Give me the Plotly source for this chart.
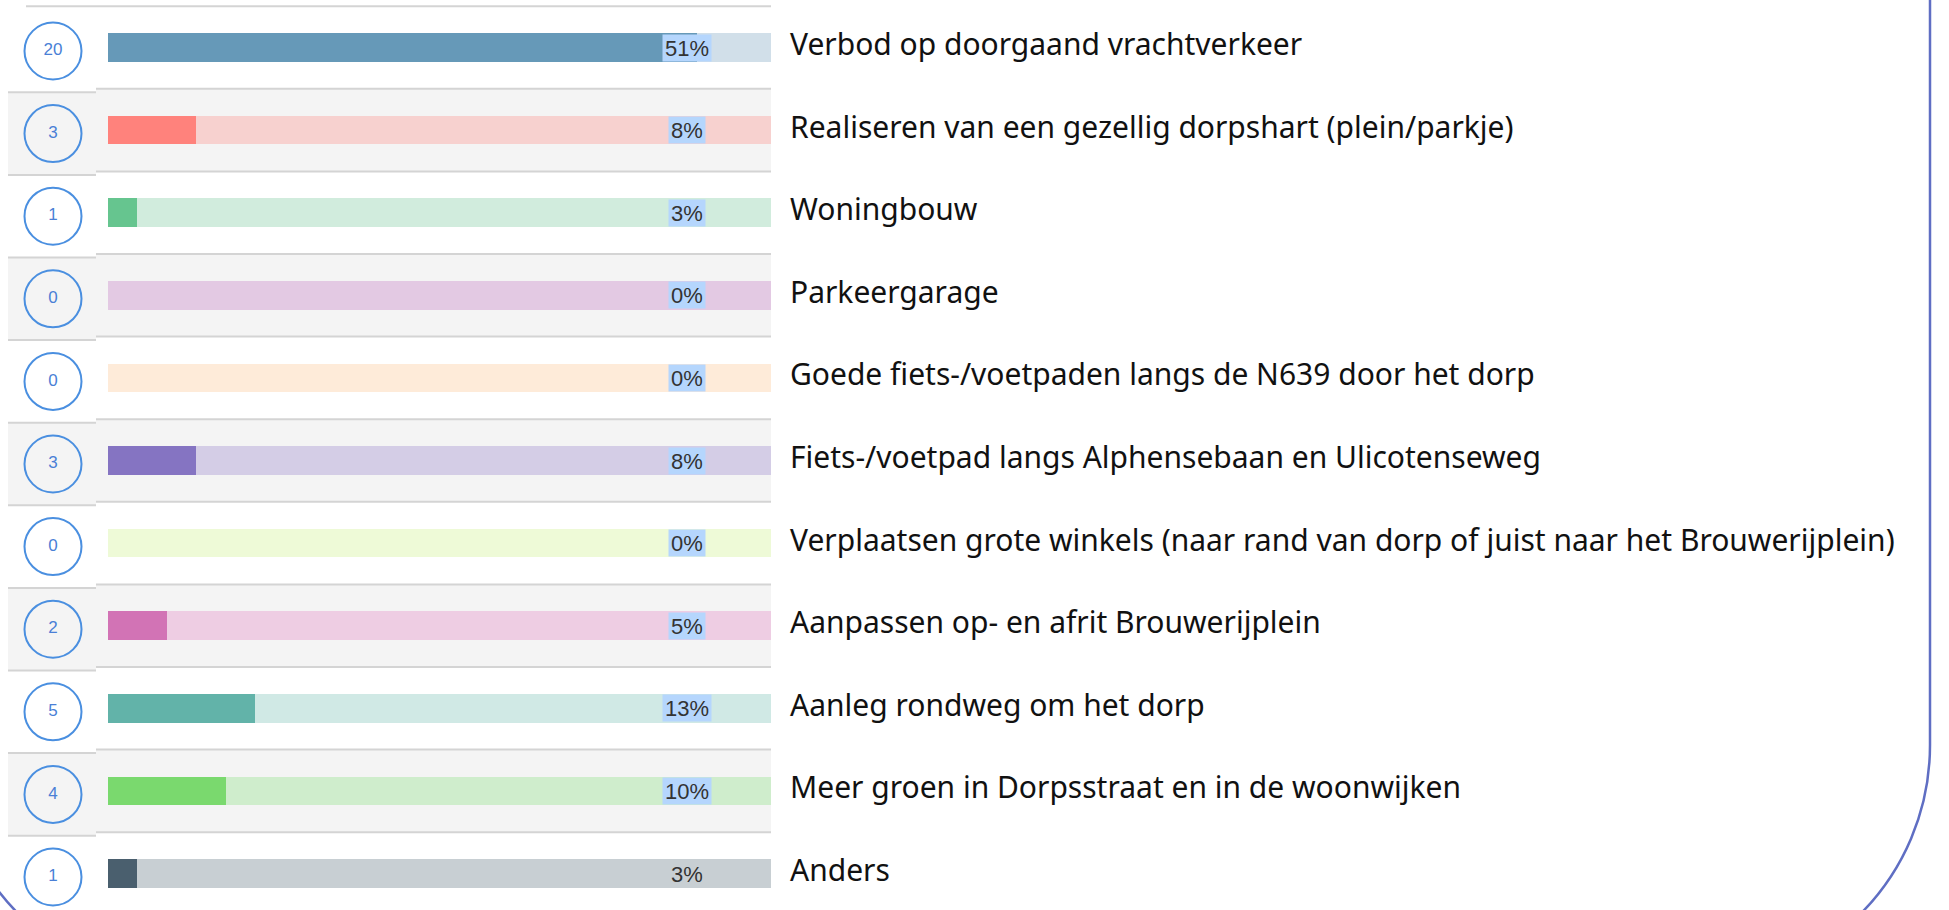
import plotly.graph_objects as go

# ---------------- data ----------------
categories = [
    "Verbod op doorgaand vrachtverkeer",
    "Realiseren van een gezellig dorpshart (plein/parkje)",
    "Woningbouw",
    "Parkeergarage",
    "Goede fiets-/voetpaden langs de N639 door het dorp",
    "Fiets-/voetpad langs Alphensebaan en Ulicotenseweg",
    "Verplaatsen grote winkels (naar rand van dorp of juist naar het Brouwerijplein)",
    "Aanpassen op- en afrit Brouwerijplein",
    "Aanleg rondweg om het dorp",
    "Meer groen in Dorpsstraat en in de woonwijken",
    "Anders",
]
counts = [20, 3, 1, 0, 0, 3, 0, 2, 5, 4, 1]
percent_labels = ["51%", "8%", "3%", "0%", "0%", "8%", "0%", "5%", "13%", "10%", "3%"]
highlighted = [True, True, True, True, True, True, True, True, True, True, False]

fill_colors = ["#6699b8", "#ff827c", "#66c58f", "#c98fc9", "#fdc99a", "#8574c2",
               "#cdeb9a", "#d273b5", "#62b3a9", "#7ad96e", "#4a5f6e"]
track_colors = ["#d1dfe9", "#f7d1cf", "#d1ecdd", "#e3c9e3", "#feebd9", "#d4cde6",
                "#eefad7", "#eecde3", "#d0e9e5", "#cfedcc", "#c8cfd3"]

TRACK_MAX = 22.5  # scale maximum of the bar tracks

# ---------------- layout helpers ----------------
W, H = 1949, 910
ROW_PX = 82.6
ROW0_PX = 47.5
LEFT_SHIFT = 3.5 / ROW_PX

n = len(categories)
rows = list(range(n))

y_top = -ROW0_PX / ROW_PX
y_bot = (H - ROW0_PX) / ROW_PX


def px(x):
    return x / W


def py(y):
    return 1 - y / H


fig = go.Figure()

# track bars
fig.add_trace(go.Bar(
    y=rows, x=[TRACK_MAX] * n, orientation="h",
    marker=dict(color=track_colors, line=dict(width=0)),
    width=0.345, xaxis="x", yaxis="y", hoverinfo="skip", showlegend=False,
))
# value bars
fig.add_trace(go.Bar(
    y=rows, x=counts, orientation="h",
    marker=dict(color=fill_colors, line=dict(width=0)),
    width=0.345, xaxis="x", yaxis="y", hoverinfo="skip", showlegend=False,
))
# count circles
fig.add_trace(go.Scatter(
    x=["n"] * n, y=rows, mode="markers+text",
    marker=dict(symbol="circle", size=57, color="rgba(0,0,0,0)",
                line=dict(color="#4a8fe0", width=2)),
    text=[str(c) for c in counts], textposition="middle center",
    textfont=dict(family="Liberation Sans, Arial", size=17, color="#4a7fd6"),
    xaxis="x2", yaxis="y2", hoverinfo="skip", showlegend=False,
))

shapes = []
# row backgrounds
for i in rows:
    if i % 2 == 1:
        shapes.append(dict(type="rect", xref="paper", yref="y", x0=px(96), x1=px(771),
                           y0=i - 0.5, y1=i + 0.5, fillcolor="#f4f4f4",
                           line=dict(width=0), layer="below"))
        shapes.append(dict(type="rect", xref="paper", yref="y2", x0=px(8), x1=px(96),
                           y0=i - 0.5, y1=i + 0.5, fillcolor="#f4f4f4",
                           line=dict(width=0), layer="below"))
# separators
shapes.append(dict(type="line", xref="paper", yref="y", x0=px(26), x1=px(771),
                   y0=-0.5, y1=-0.5, line=dict(color="#d4d4d4", width=2), layer="below"))
for i in range(n - 1):
    shapes.append(dict(type="line", xref="paper", yref="y", x0=px(96), x1=px(771),
                       y0=i + 0.5, y1=i + 0.5, line=dict(color="#d4d4d4", width=2),
                       layer="below"))
    shapes.append(dict(type="line", xref="paper", yref="y2", x0=px(8), x1=px(96),
                       y0=i + 0.5, y1=i + 0.5, line=dict(color="#d4d4d4", width=2),
                       layer="below"))

# rounded frame
L, R, T, B, RAD = -51, 1930, -200, 985, 240
K = 0.5523 * RAD
path = (
    f"M {px(L)},{py(T)} L {px(R)},{py(T)} L {px(R)},{py(B - RAD)} "
    f"C {px(R)},{py(B - RAD + K)} {px(R - RAD + K)},{py(B)} {px(R - RAD)},{py(B)} "
    f"L {px(L + RAD)},{py(B)} "
    f"C {px(L + RAD - K)},{py(B)} {px(L)},{py(B - RAD + K)} {px(L)},{py(B - RAD)} Z"
)
shapes.append(dict(type="path", xref="paper", yref="paper", path=path,
                   line=dict(color="#5f6ec3", width=2.5), fillcolor="rgba(0,0,0,0)"))

annotations = []
LABEL_X = TRACK_MAX * (687 - 108) / (771 - 108)
for i in rows:
    annotations.append(dict(
        x=LABEL_X, y=i, xref="x", yref="y", text=percent_labels[i], showarrow=False,
        xanchor="center", yanchor="middle", height=22, borderpad=2,
        font=dict(family="Liberation Sans, Arial", size=22, color="#333333"),
        bgcolor="#b5d6fd" if highlighted[i] else "rgba(0,0,0,0)",
    ))
    annotations.append(dict(
        x=px(788), y=i, xref="paper", yref="y", text=categories[i], showarrow=False,
        xanchor="left", yanchor="middle", yshift=4,
        font=dict(family="Noto Sans", size=30, color="#111111"),
    ))

hidden = dict(visible=False, showgrid=False, zeroline=False, fixedrange=True)
fig.update_layout(
    width=W, height=H,
    margin=dict(l=0, r=0, t=0, b=0),
    paper_bgcolor="white", plot_bgcolor="rgba(0,0,0,0)",
    barmode="overlay", bargap=0,
    xaxis=dict(domain=[px(108), px(771)], range=[0, TRACK_MAX], anchor="y", **hidden),
    yaxis=dict(domain=[0, 1], range=[y_bot, y_top], anchor="x", **hidden),
    xaxis2=dict(domain=[0, px(106)], type="category", anchor="y2", **hidden),
    yaxis2=dict(domain=[0, 1], range=[y_bot - LEFT_SHIFT, y_top - LEFT_SHIFT],
                anchor="x2", **hidden),
    shapes=shapes, annotations=annotations, showlegend=False,
)

fig.write_html("out.html", config={"displayModeBar": False},
               post_script="document.body.style.margin='0';")
